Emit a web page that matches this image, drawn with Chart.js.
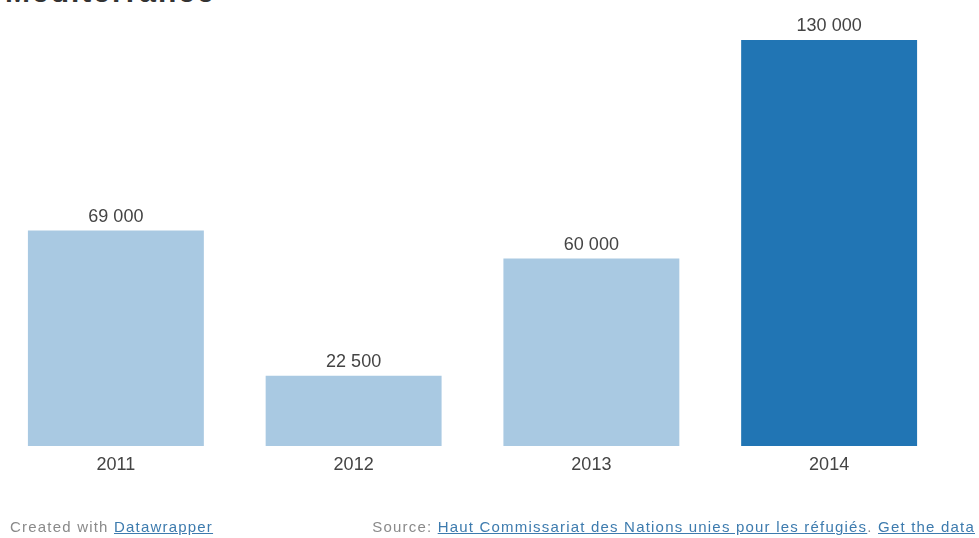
<!DOCTYPE html>
<html>
<head>
<meta charset="utf-8">
<script src="https://cdn.jsdelivr.net/npm/chart.js@4"></script>
<style>
  body { margin: 0; width: 979px; height: 538px; overflow: hidden; background: #fff; position: relative; font-family: Arial, "Liberation Sans", sans-serif; }
  #title { position: absolute; left: 5px; top: -25px; font-size: 30px; font-weight: bold; color: #333; letter-spacing: 2px; white-space: nowrap; }
  #wrap { position: absolute; left: -3px; top: 0; width: 951px; height: 538px; }
  .foot { position: absolute; top: 518px; font-size: 15px; color: #8a8a8a; white-space: nowrap; letter-spacing: 1.2px; }
  .foot a { color: #3d7bae; text-decoration: underline; }
</style>
</head>
<body>
<div id="title">Méditerranée</div>
<div id="wrap"><canvas id="myChart"></canvas></div>
<div class="foot" style="left:10px">Created with <a>Datawrapper</a></div>
<div class="foot" id="source" style="right:4px">Source: <a>Haut Commissariat des Nations unies pour les réfugiés</a>. <a>Get the data</a></div>
<script>
const years = ["2011", "2012", "2013", "2014"];
const arrivals = [69000, 22500, 60000, 130000];
const barColors = ["#a9c9e2", "#a9c9e2", "#a9c9e2", "#2175b4"];

function formatNumber(n) {
    return String(n).replace(/\B(?=(\d{3})+(?!\d))/g, " ");
}

// value labels above each bar
const valueLabels = {
    id: "valueLabels",
    afterDatasetsDraw(chart) {
        const ctx = chart.ctx;
        const meta = chart.getDatasetMeta(0);
        ctx.save();
        ctx.font = "18px Arial, 'Liberation Sans', sans-serif";
        ctx.fillStyle = "#444";
        ctx.textAlign = "center";
        ctx.textBaseline = "alphabetic";
        meta.data.forEach((bar, i) => {
            ctx.fillText(formatNumber(arrivals[i]), bar.x, bar.y - 9);
        });
        ctx.restore();
    }
};

const graph = document.getElementById("myChart").getContext("2d");
let myChart = new Chart(graph, {
    type: "bar",
    data: {
        labels: years,
        datasets: [{
            data: arrivals,
            backgroundColor: barColors,
            borderWidth: 0,
            barPercentage: 0.74,
            categoryPercentage: 1,
        }],
    },
    options: {
        responsive: true,
        maintainAspectRatio: false,
        animation: false,
        layout: { padding: { top: 40, bottom: 52, left: 0, right: 0 } },
        plugins: { legend: { display: false }, tooltip: { enabled: false } },
        scales: {
            x: {
                grid: { display: false, drawTicks: false },
                border: { display: false },
                ticks: {
                    color: "#444",
                    padding: 8,
                    font: { size: 18, family: "Arial, 'Liberation Sans', sans-serif" },
                },
                afterFit(scale) { scale.height = 40; },
            },
            y: {
                display: false,
                min: 0,
                max: 130000,
            },
        },
    },
    plugins: [valueLabels],
});
</script>
</body>
</html>
